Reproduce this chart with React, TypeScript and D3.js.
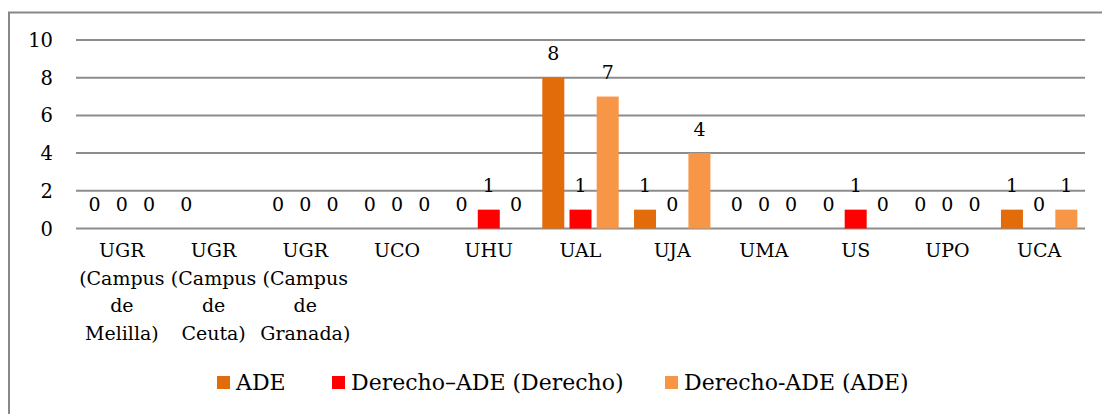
import React, { useEffect, useRef } from 'react';
import * as d3 from 'd3';

const categories = [
  ['UGR', '(Campus', 'de', 'Melilla)'],
  ['UGR', '(Campus', 'de', 'Ceuta)'],
  ['UGR', '(Campus', 'de', 'Granada)'],
  ['UCO'],
  ['UHU'],
  ['UAL'],
  ['UJA'],
  ['UMA'],
  ['US'],
  ['UPO'],
  ['UCA'],
];

const seriesNames = ['ADE', 'Derecho\u2013ADE (Derecho)', 'Derecho-ADE (ADE)'];
const seriesColors = ['#E36C0A', '#FF0000', '#F79646'];

const ade = [0, 0, 0, 0, 0, 8, 1, 0, 0, 0, 1];
const derechoAdeDerecho = [0, null, 0, 0, 1, 1, 0, 0, 1, 0, 0];
const derechoAdeAde = [0, null, 0, 0, 0, 7, 4, 0, 0, 0, 1];

const yTicks = [0, 2, 4, 6, 8, 10];

const W = 1102;
const H = 414;
const FONT = 'DejaVu Serif';

function App() {
  const ref = useRef<SVGSVGElement>(null);

  useEffect(() => {
    const svg = d3.select(ref.current);
    svg.selectAll('*').remove();

    const series = [ade, derechoAdeDerecho, derechoAdeAde];
    const left = 76;
    const right = 1085;

    // outer frame (only top and left visible)
    svg.append('path')
      .attr('d', `M9,${H} L9,12.5 L${W},12.5`)
      .attr('fill', 'none')
      .attr('stroke', '#888')
      .attr('stroke-width', 2);

    const x = d3.scaleBand<number>()
      .domain(d3.range(categories.length))
      .range([left, right]);

    const y = d3.scaleLinear().domain([0, 10]).range([228.5, 40]);

    const barW = 22;
    const barStep = 27.2;

    // gridlines
    svg.selectAll('.grid')
      .data(yTicks)
      .enter()
      .append('line')
      .attr('x1', left)
      .attr('x2', right)
      .attr('y1', d => y(d))
      .attr('y2', d => y(d))
      .attr('stroke', '#8c8c8c')
      .attr('stroke-width', 2);

    const g = svg.append('g')
      .attr('font-family', FONT)
      .attr('font-size', 19)
      .attr('fill', '#000');

    // y tick labels
    g.selectAll('.ytick')
      .data(yTicks)
      .enter()
      .append('text')
      .attr('x', 53)
      .attr('y', d => y(d) + 7)
      .attr('text-anchor', 'end')
      .attr('font-size', 19.5)
      .text(d => d);

    series.forEach((vals, si) => {
      vals.forEach((v, ci) => {
        if (v === null) return;
        const cx = x(ci)! + x.bandwidth() / 2 + (si - 1) * barStep;
        if (v > 0) {
          svg.append('rect')
            .attr('x', cx - barW / 2)
            .attr('y', y(v))
            .attr('width', barW)
            .attr('height', y(0) - y(v))
            .attr('fill', seriesColors[si]);
        }
        g.append('text')
          .attr('x', cx)
          .attr('y', y(v) - 17.5)
          .attr('text-anchor', 'middle')
          .text(v);
      });
    });

    // category labels
    categories.forEach((lines, ci) => {
      const cx = x(ci)! + x.bandwidth() / 2;
      const t = g.append('text')
        .attr('x', cx)
        .attr('y', 257)
        .attr('text-anchor', 'middle');
      lines.forEach((ln, i) => {
        t.append('tspan')
          .attr('x', cx)
          .attr('dy', i === 0 ? 0 : 27.7)
          .text(ln);
      });
    });

    // legend
    const legendX = [217, 332, 665];
    seriesNames.forEach((name, i) => {
      svg.append('rect')
        .attr('x', legendX[i])
        .attr('y', 376)
        .attr('width', 13)
        .attr('height', 13)
        .attr('fill', seriesColors[i]);
      g.append('text')
        .attr('x', legendX[i] + 19)
        .attr('y', 390)
        .attr('font-size', 22)
        .text(name);
    });
  }, []);

  return (
    <svg
      ref={ref}
      width={W}
      height={H}
      style={{ position: 'absolute', left: 0, top: 0, background: '#fff' }}
    />
  );
}

export default App;
